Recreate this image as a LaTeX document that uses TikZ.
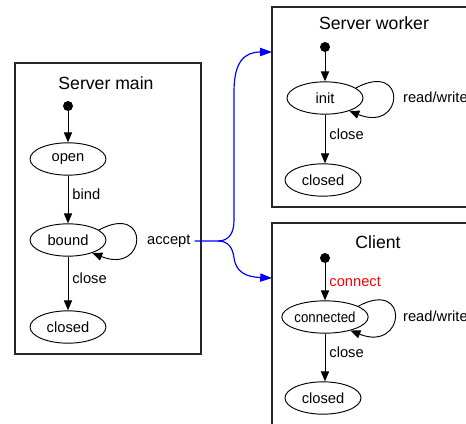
\documentclass[tikz,border=0pt]{standalone}
\usepackage{fontspec}
\setmainfont{Liberation Sans}
\usetikzlibrary{arrows.meta,shapes.geometric}

\tikzset{
    frame/.style={draw=black!85,line width=1pt,rectangle,inner sep=0pt},
    title/.style={font=\fontsize{15}{17}\selectfont},
    state/.style={draw,ellipse,line width=0.8pt,inner sep=0pt,
	minimum width=64.6pt,minimum height=27.5pt,
	font=\fontsize{12.5}{14}\selectfont},
    initial/.style={circle,fill=black,inner sep=0pt,minimum size=8.5pt},
    trans/.style={line width=0.8pt,-{Triangle[length=8.5pt,width=7pt]}},
    selfloop/.style={trans,to path={.. controls +(52,-28) and +(55,22) .. (\tikztotarget)}},
    tlabel/.style={font=\fontsize{12.5}{14}\selectfont},
    link/.style={blue,line width=1pt,-{Triangle[length=10pt,width=7pt]}}
}

\begin{document}
\begin{tikzpicture}[x=0.85pt,y=-0.85pt]
\useasboundingbox (0,0) rectangle (466,423);
\clip (0,0) rectangle (466,423);

\path
    (108,208.5) node [frame,minimum width=158.1pt,minimum height=247.35pt] (main) {}
    (376,107) node [frame,minimum width=176.8pt,minimum height=170pt] (worker) {}
    (376,331.5) node [frame,minimum width=176.8pt,minimum height=184.45pt] (client) {};

\path
    (106,83) node [title] (maintitle) {Server main}
    (68,106) node [initial] (mainstart) {}
    (68,159) node [state] (open) {open}
    (68,240) node [state] (bound) {bound}
    (68,327) node [state] (mainclosed) {closed}
    (143,241) node [tlabel,anchor=west] (accept) {accept};
\draw [trans] (mainstart) -- (open);
\draw [trans] (open) -- (bound) node [tlabel,pos=0.4,right] {bind};
\draw [trans] (bound) -- (mainclosed) node [tlabel,pos=0.4,right] {close};
\draw [selfloop] (bound.18) to (bound.-28);

\path
    (374,23) node [title] (workertitle) {Server worker}
    (325,47) node [initial] (workerstart) {}
    (325,98) node [state] (init) {init}
    (323,180) node [state] (workerclosed) {closed}
    (399,97) node [tlabel,anchor=west] (workerrw) {read/write};
\draw [trans] (workerstart) -- (init);
\draw [trans] (init) -- (init |- workerclosed.north) node [tlabel,pos=0.4,right] {close};
\draw [selfloop] (init.18) to (init.-28);

\path
    (378,242) node [title] (clienttitle) {Client}
    (325,258) node [initial] (clientstart) {}
    (325,317) node [state] (connected) {\scalebox{0.9}[1]{connected}}
    (323,398) node [state] (clientclosed) {closed}
    (399,316) node [tlabel,anchor=west] (clientrw) {read/write};
\draw [trans] (clientstart) -- (connected)
    node [tlabel,midway,right,text=red] {connect};
\draw [trans] (connected) -- (connected |- clientclosed.north) node [tlabel,pos=0.4,right] {close};
\draw [selfloop] (connected.18) to (connected.-28);

\path
    (218,241) coordinate (fork)
    (272,52) coordinate (toworker)
    (272,278) coordinate (toclient);
\draw [link]
    (accept.east) -- (fork)
    .. controls (229,241) and (234,233) .. (234,220) -- (234,92)
    .. controls (234,62) and (244,52) .. (toworker);
\draw [link]
    (fork)
    .. controls (229,241) and (233,249) .. (234,258)
    .. controls (236,272) and (246,277) .. (toclient);
\end{tikzpicture}
\end{document}
